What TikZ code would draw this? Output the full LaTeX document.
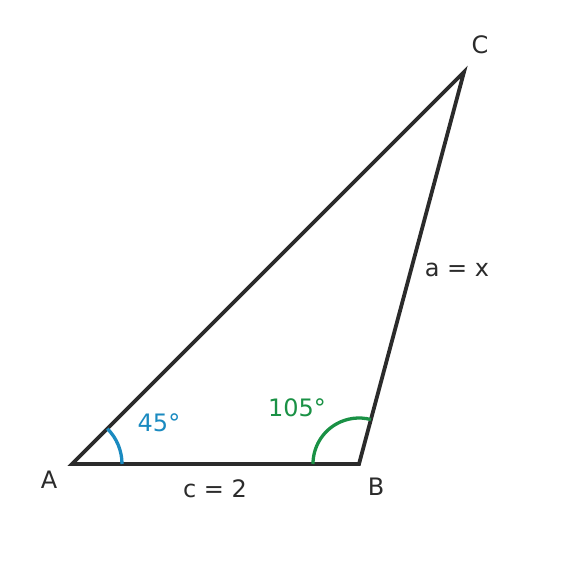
\documentclass[tikz,border=0pt]{standalone}
\usepackage{fontspec}
\setmainfont{DejaVu Sans}
\definecolor{ink}{HTML}{2B2B2B}
\definecolor{angblue}{HTML}{1A8AC0}
\definecolor{anggreen}{HTML}{1A9145}
\begin{document}
\begin{tikzpicture}[x=1pt,y=-1pt,
  side/.style={draw=ink,line width=3.8pt,line join=miter},
  lab/.style={text=ink,font=\fontsize{24}{28}\selectfont,inner sep=0pt},
  arcA/.style={draw=angblue,line width=3.3pt},
  arcB/.style={draw=anggreen,line width=3.3pt}]
\useasboundingbox (0,0) rectangle (569,576);
\coordinate (A) at (72,464);
\coordinate (B) at (359,464);
\coordinate (C) at (464,72);
\draw[side] (A) -- (B) -- (C) -- cycle;
\draw[arcA] ([xshift=50pt]A) arc[start angle=0,end angle=45,radius=50pt];
\draw[arcB] ([xshift=-46pt]B) arc[start angle=180,end angle=75,radius=46pt];
\node[lab] (lA) at (49,480) {A};
\node[lab] (lB) at (376,487) {B};
\node[lab] (lC) at (480,45) {C};
\node[lab] (la) at (457,270) {a = x};
\node[lab] (lc) at (215,489) {c = 2};
\node[lab,text=angblue] (l45) at (159,423) {45°};
\node[lab,text=anggreen] (l105) at (297,408) {105°};
\end{tikzpicture}
\end{document}
